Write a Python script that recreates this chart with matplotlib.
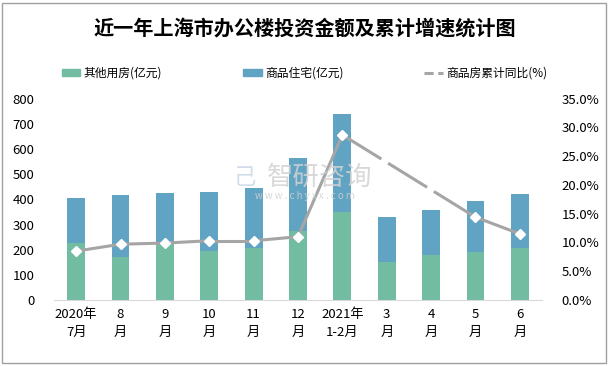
import matplotlib
matplotlib.use("Agg")
import matplotlib.pyplot as plt
from matplotlib.lines import Line2D
from matplotlib.patches import Patch, Rectangle
import numpy as np

plt.rcParams['font.family'] = ['Noto Sans CJK SC', 'DejaVu Sans']

# data
months = ['2020年\n7月', '8\n月', '9\n月', '10\n月', '11\n月', '12\n月',
          '2021年\n1-2月', '3\n月', '4\n月', '5\n月', '6\n月']
other_use = [225, 171, 226, 195, 208, 274, 350, 151, 179, 191, 207]
total_top = [405, 417, 425, 429, 445, 564, 739, 330, 358, 393, 421]
residential = [t - o for t, o in zip(total_top, other_use)]
cum_growth = [8.5, 9.7, 9.9, 10.3, 10.3, 11.0, 28.7, np.nan, np.nan, 14.4, 11.5]

green = '#72BCA2'
blue = '#61A3C3'
gray = '#A5A5A5'

W, H = 609, 366
fig = plt.figure(figsize=(W / 100, H / 100), dpi=100)
ax = fig.add_axes([54 / W, (H - 300) / H, 488 / W, 201.3 / H])
ax2 = ax.twinx()

x = np.arange(len(months))
ax.bar(x, other_use, width=0.4, color=green, zorder=2)
ax.bar(x, residential, width=0.4, bottom=other_use, color=blue, zorder=2)

ax.set_xlim(-0.5, len(months) - 0.5)
ax.set_ylim(0, 800)
ax.set_yticks(range(0, 801, 100))
ax.set_xticks(x)
ax.set_xticklabels(months, fontsize=9.5, linespacing=1.5)
ax.tick_params(axis='both', length=0, labelsize=9.5)
ax.tick_params(axis='x', pad=6)
ax.tick_params(axis='y', pad=14)
for s in ['left', 'right', 'top']:
    ax.spines[s].set_visible(False)
    ax2.spines[s].set_visible(False)
ax.spines['bottom'].set_color('#D9D9D9')
ax2.spines['bottom'].set_visible(False)

# growth line: solid where data exists, dashed across the missing months
g = np.array(cum_growth)
ok = ~np.isnan(g)
idx = x[ok]
vals = g[ok]
for a, b in zip(idx[:-1], idx[1:]):
    style = '-' if b - a == 1 else (0, (15, 2.6))
    ax2.plot([a, b], [g[a], g[b]], color=gray, lw=2.2, ls=style, zorder=3,
             solid_capstyle='butt', dash_capstyle='butt')
ax2.plot(idx, vals, ls='none', marker='D', ms=5.5, mfc='white', mec='white',
         zorder=4)
ax2.set_ylim(0, 35)
ax2.set_yticks(np.arange(0, 35.1, 5))
ax2.set_yticklabels([f'{v:.1f}%' for v in np.arange(0, 35.1, 5)])
ax2.tick_params(axis='y', length=0, labelsize=9.5, pad=14)

# watermark
fig.text(320 / W, (H - 177) / H, '智研咨询', fontsize=19, color='#D2D2D2',
         ha='center', va='center', alpha=0.85)
fig.text(305 / W, (H - 196) / H, 'w w w . c h y x x . c o m', fontsize=7,
         color='#D2D2D2', ha='center', va='center', alpha=0.85)
fig.text(245 / W, (H - 177) / H, '己', fontsize=16, color='#C9D6E8',
         ha='center', va='center', alpha=0.85)

fig.text(0.5, (H - 29) / H, '近一年上海市办公楼投资金额及累计增速统计图',
         fontsize=14.5, fontweight='bold', ha='center', va='center')

handles = [Patch(color=green), Patch(color=blue),
           Line2D([], [], color=gray, lw=2.2, ls=(0, (3, 1.5)))]
labels = ['其他用房(亿元)', '商品住宅(亿元)', '商品房累计同比(%)']
fig.legend(handles, labels, loc='center', bbox_to_anchor=(0.5, (H - 73) / H),
           ncol=3, frameon=False, fontsize=8.5, handlelength=1.6,
           handleheight=0.55, handletextpad=0.3, columnspacing=6.8)

fig.patches.append(Rectangle((2 / W, 3 / H), (W - 5) / W, (H - 6) / H,
                             transform=fig.transFigure, fill=False,
                             edgecolor='#A0A0A0', lw=1))

fig.savefig('out.png', dpi=100)
